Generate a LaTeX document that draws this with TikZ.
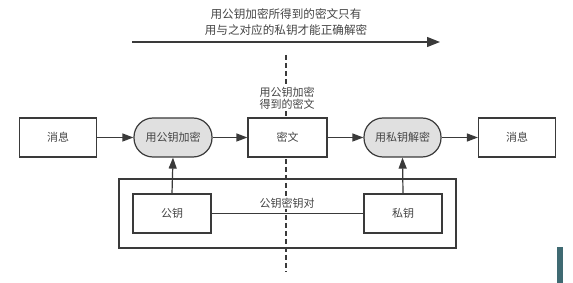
\documentclass[tikz,border=0pt]{standalone}
\usepackage{fontspec}
\setmainfont{Noto Sans CJK SC}
\usetikzlibrary{arrows.meta}
\definecolor{ink}{HTML}{3A3A3A}
\definecolor{txt}{HTML}{444444}
\definecolor{pillgray}{HTML}{E0E0E0}
\definecolor{tealbar}{HTML}{3F6A72}
\begin{document}
\begin{tikzpicture}[x=1pt,y=-1pt,
  every node/.style={font=\fontsize{11}{14}\selectfont, text=txt},
  boxnode/.style={draw=ink, line width=1.2pt, fill=white, minimum width=77pt, minimum height=39pt, inner sep=0pt},
  pillnode/.style={draw=ink, line width=1.2pt, fill=pillgray, minimum width=78pt, minimum height=39pt, inner sep=0pt, rounded corners=19pt},
  conn/.style={draw=ink, line width=1.2pt},
  arr/.style={conn, -{Triangle[length=11pt,width=8pt]}},
  lbl/.style={fill=white, inner sep=1pt, align=center}
]
\useasboundingbox (0,0) rectangle (573,283);
% dashed divider
\coordinate (dtop) at (286,55);
\coordinate (dbot) at (286,272);
\draw[ink, line width=1.1pt, dash pattern=on 5pt off 3pt] (dtop) -- (dbot);
% top arrow and text
\coordinate (ta) at (132,42);
\coordinate (tb) at (440,42);
\draw[conn, line width=1.4pt, -{Triangle[length=13pt,width=10pt]}] (ta) -- (tb);
\node (toptext) at (286,22) [align=center, font=\fontsize{11.6}{16}\selectfont] {用公钥加密所得到的密文只有\\用与之对应的私钥才能正确解密};
% outer group box
\node (group) at (287.5,213.5) [draw=ink, line width=1.2pt, minimum width=337pt, minimum height=69pt, inner sep=0pt] {};
% main row
\node[boxnode] (msg1) at (58,137.5) {消息};
\node[pillnode] (enc) at (173,137.5) {用公钥加密};
\node[boxnode, minimum width=79pt] (cipher) at (287.5,137.5) {密文};
\node[pillnode, minimum width=77pt] (dec) at (402.5,137.5) {用私钥解密};
\node[boxnode] (msg2) at (517,137.5) {消息};
\node[lbl] (clabel) at (287,98.5) {用公钥加密\\[-2pt]得到的密文};
% key boxes
\node[boxnode, minimum width=78pt] (pub) at (172,213.5) {公钥};
\node[boxnode, minimum width=78pt] (priv) at (403,213.5) {私钥};
\draw[conn] (pub.east) -- (priv.west);
\node[lbl] (pairlabel) at (287,203) {公钥密钥对};
% arrows
\draw[arr] (msg1) -- (enc);
\draw[arr] (enc) -- (cipher);
\draw[arr] (cipher) -- (dec);
\draw[arr] (dec) -- (msg2);
\draw[arr] (pub.north) -- (enc.south);
\draw[arr] (priv.north) -- (dec.south);
% small bar at right edge
\fill[tealbar] (557,247) rectangle (563,283);
\end{tikzpicture}
\end{document}
